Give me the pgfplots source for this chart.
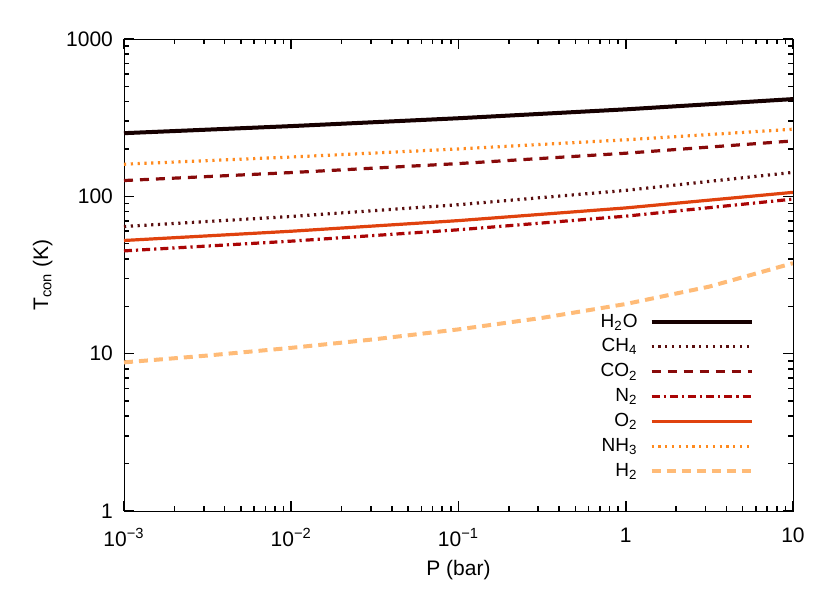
\documentclass[border=0pt]{standalone}
\usepackage{fontspec}
\setmainfont{Liberation Sans}
\usepackage{pgfplots}
\pgfplotsset{compat=1.18}
\definecolor{cH2O}{HTML}{160000}
\definecolor{cCH4}{HTML}{5A0E0E}
\definecolor{cCO2}{HTML}{880A0A}
\definecolor{cN2}{HTML}{AA0505}
\definecolor{cO2}{HTML}{E0420E}
\definecolor{cNH3}{HTML}{FF8A1E}
\definecolor{cH2}{HTML}{FFBB77}
\begin{document}
\begin{tikzpicture}
\begin{axis}[
 at={(0,0)}, anchor=south west,
 scale only axis, width=334.5pt, height=236pt,
 xmode=log, ymode=log,
 xmin=1e-3, xmax=10, ymin=1, ymax=1000,
 major tick length=5pt, minor tick length=2.6pt,
 tick style={black, line width=0.8pt},
 xtick={1e-3,1e-2,1e-1,1,10},
 xticklabels={10\textsuperscript{−3},10\textsuperscript{−2},10\textsuperscript{−1},1,10},
 ytick={1,10,100,1000}, yticklabels={1,10,100,1000},
 ticklabel style={font=\fontsize{10.5}{12}\selectfont},
 xticklabel style={yshift=-5pt},
 yticklabel style={xshift=-2pt},
 xlabel={P (bar)}, ylabel={T\textsubscript{con} (K)},
 label style={font=\fontsize{10.5}{12}\selectfont},
 legend style={draw=none, fill=none, at={(0.9417,0.058)}, anchor=south east,
   font=\fontsize{9.5}{11}\selectfont, row sep=0.35pt, inner sep=0pt},
 legend cell align=right, legend plot pos=right,
 legend image code/.code={\path (0pt,0pt); \draw[#1] (4pt,0pt) -- (54pt,0pt);},
]
\addplot[cH2O, line width=2pt] coordinates {(0.001,252) (0.01,279.5) (0.1,313.6) (1,357.2) (10,415)};
\addlegendentry{H\textsubscript{2}O}
\addplot[cCH4, line width=1.6pt, dash pattern=on 1.1pt off 2.3pt] coordinates {(0.001,64.3) (0.01,74.5) (0.1,88.5) (1,109.1) (10,142)};
\addlegendentry{CH\textsubscript{4}}
\addplot[cCO2, line width=1.6pt, dash pattern=on 4.5pt off 3.5pt] coordinates {(0.001,126) (0.01,141.6) (0.1,161.5) (1,188.0) (10,225)};
\addlegendentry{CO\textsubscript{2}}
\addplot[cN2, line width=1.6pt, dash pattern=on 4pt off 2pt on 1.1pt off 2pt] coordinates {(0.001,45) (0.01,51.9) (0.1,61.3) (1,74.8) (10,96)};
\addlegendentry{N\textsubscript{2}}
\addplot[cO2, line width=1.6pt] coordinates {(0.001,52.4) (0.01,60.0) (0.1,70.1) (1,84.4) (10,106)};
\addlegendentry{O\textsubscript{2}}
\addplot[cNH3, line width=1.6pt, dash pattern=on 1.1pt off 2.3pt] coordinates {(0.001,160) (0.01,177.8) (0.1,200.1) (1,228.7) (10,267)};
\addlegendentry{NH\textsubscript{3}}
\addplot[cH2, line width=2pt, dash pattern=on 4.5pt off 3pt] coordinates {(0.001,8.80) (0.00316,9.73) (0.01,10.89) (0.0316,12.35) (0.1,14.27) (0.316,16.88) (1,20.68) (3.16,26.68) (10,37.6)};
\addlegendentry{H\textsubscript{2}}
\end{axis}
\path (-62pt,-41pt) rectangle (353pt,255.5pt);
\end{tikzpicture}
\end{document}
